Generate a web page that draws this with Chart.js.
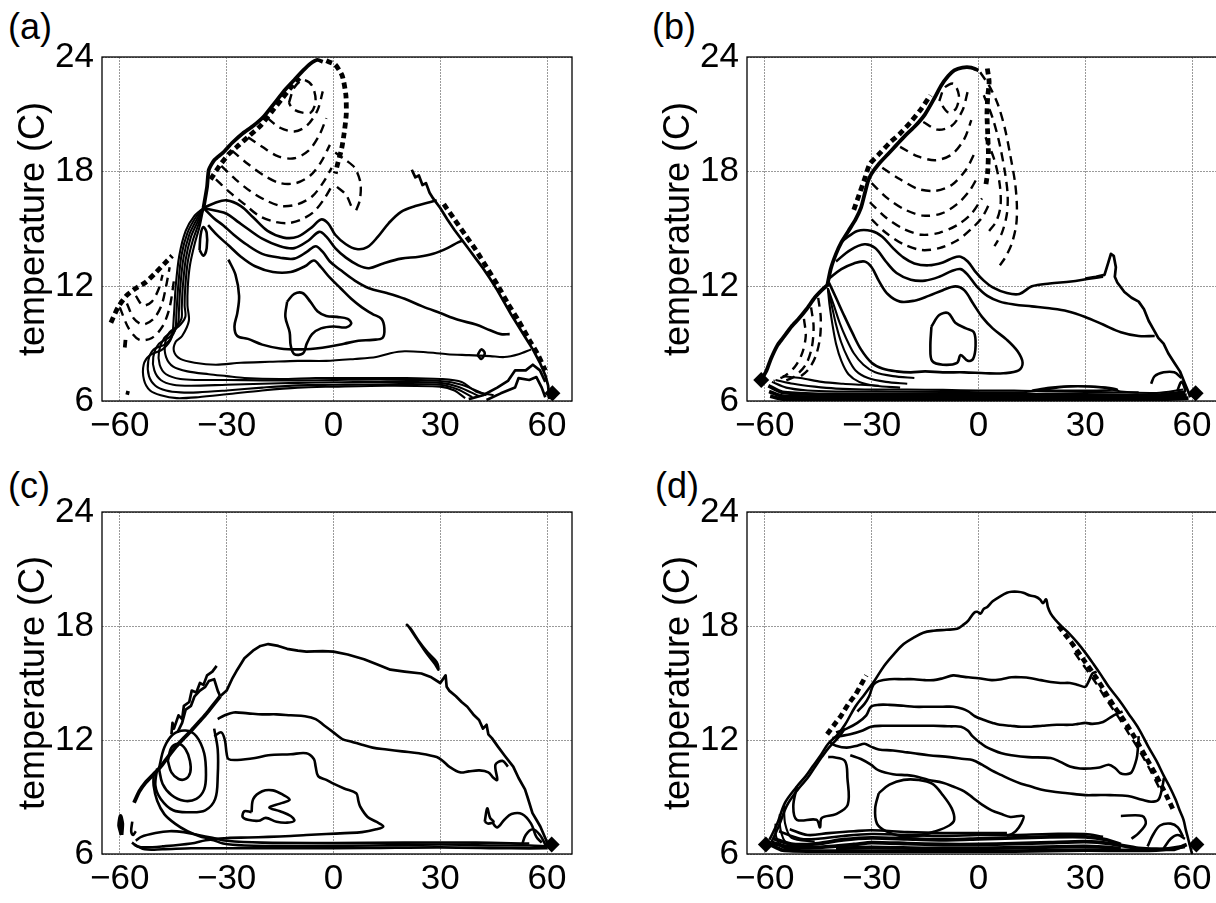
<!DOCTYPE html>
<html><head><meta charset="utf-8">
<script src="https://cdn.jsdelivr.net/npm/chart.js@4.4.1/dist/chart.umd.min.js"></script>
<style>
html,body{margin:0;padding:0;background:#fff;overflow:hidden;width:1216px;height:903px;}
canvas{position:absolute;}
.tag{position:absolute;font-family:'Liberation Sans',Arial,Helvetica,sans-serif;font-size:36px;line-height:36px;color:#000;}
</style></head><body>
<div class="tag" id="t0" style="left:8px;top:9px"></div>
<div class="tag" id="t1" style="left:652px;top:9px"></div>
<div class="tag" id="t2" style="left:8px;top:468px"></div>
<div class="tag" id="t3" style="left:655px;top:468px"></div>
<canvas id="c0" width="600" height="450" style="left:0;top:0;width:600px;height:450px"></canvas>
<canvas id="c1" width="600" height="450" style="left:645px;top:0;width:600px;height:450px"></canvas>
<canvas id="c2" width="600" height="448" style="left:0;top:455px;width:600px;height:448px"></canvas>
<canvas id="c3" width="600" height="448" style="left:645px;top:455px;width:600px;height:448px"></canvas>
<script>
// ---------- axes / text ----------
const xTicks = [-60, -30, 0, 30, 60];
const xLabels = ['\u221260', '\u221230', '0', '30', '60'];
const yTicks = [6, 12, 18, 24];
const yLabels = ['6', '12', '18', '24'];
const panelTags = ['(a)', '(b)', '(c)', '(d)'];
const yTitle = 'temperature (C)';

// ---------- panel (a) contours: [x,y,x,y,...] ----------
const a_edgeR = [22,18.1, 23,17.7, 24,17.8, 25,17.3, 26,17.4, 27,16.9, 28,16.6, 30,16.1, 32,15.5, 34,14.95, 36,14.45, 38,13.95, 40,13.45, 42,12.95, 44,12.4, 46,11.8, 48,11.15, 50,10.5, 52,9.9, 54,9.3, 56,8.7, 58,8.0, 59.5,7.35, 60.3,6.8, 60.6,6.1];
const a_edgeRd = [31,16.3, 34,15.5, 37,14.7, 40,13.9, 43,13.0, 46,12.1, 49,11.1, 52,10.2, 55,9.2, 57.5,8.4, 59.5,7.6];
const a_edgeTL = [-36.5,16.1, -35.5,17.2, -35,18.1, -33.5,18.6, -31,19.0, -28.5,19.5, -25.5,20.0, -22.5,20.4, -19.5,20.9, -16.5,21.6, -13.5,22.3, -11,22.8, -8.5,23.3, -6.5,23.65, -4.5,23.85, -3,23.75];
const a_edgeTL2 = [-34.5,17.6, -32,18.3, -29.5,18.9, -26.5,19.4, -23.5,19.9, -20.5,20.4, -17.5,21.1, -14.5,21.8, -12,22.4, -9.5,22.9];
const a_edgeTR = [-2,23.8, 0.5,23.6, 2.5,23.0, 3.5,22.0, 3.6,21.0, 3.0,20.0, 2.3,19.2, 1.3,18.5, 0.5,17.9];
const a_v1 = [-33,17.6, -29,16.9, -25,16.3, -21,15.7, -17,15.4, -13,15.3, -9,15.5, -5.5,15.9, -2.5,16.6, 0,17.4];
const a_v2 = [-31.5,18.3, -27.5,17.6, -23.5,17.0, -19,16.5, -14.5,16.2, -10,16.3, -6,16.7, -3,17.4, -0.5,18.2];
const a_v3 = [-28.5,19.1, -24,18.4, -19.5,17.8, -15,17.4, -10.5,17.4, -6.5,17.8, -3.5,18.5, -1,19.4];
const a_v4 = [-24,19.8, -20,19.3, -15.5,18.8, -11,18.7, -7,19.1, -4,19.9, -2,20.8];
const a_v5 = [-18.5,20.8, -15,20.3, -11,20.1, -7.5,20.4, -4.5,21.2, -3,22.2];
const a_v6 = [-12.5,21.6, -11,22.4, -8.5,22.8, -6,22.5, -5,21.7, -6.3,21.1, -9,21.1, -11.5,21.3, -12.5,21.6];
const a_r1 = [0.5,19.0, 3.5,18.6, 6,18.2, 7.6,17.4, 7.4,16.5, 6.2,15.9];
const a_r2 = [1,17.2, 3.5,16.8, 5,16.2];
const a_hL = [-62.5,10.1, -60.5,10.9, -58.2,11.5, -55.5,11.9, -52.8,12.2, -50,12.7, -47.4,13.2, -45.3,13.6];
const a_u1 = [-60,10.9, -57.5,9.8, -54.5,9.2, -51,9.3, -48,9.9, -46,10.9, -44.8,12.3];
const a_u2 = [-58,11.1, -56,10.3, -53.5,10.0, -50.5,10.3, -48.3,11.0, -47,12.0, -46,13.0];
const a_u3 = [-55.5,11.5, -53.5,11.0, -51,11.2, -49,11.9, -48,12.6];
const a_dot1 = [-58.6,8.8, -58.4,9.2];
const a_dot2 = [-58.3,6.45, -57.3,6.4];
const a_s1 = [-36.5,16.1, -39,15.7, -41.5,14.9, -43.3,13.6, -44.3,12.0, -44.8,10.5, -45.5,9.3, -48,8.7, -51.5,8.4, -53.3,7.9, -53.2,7.1, -51.5,6.55, -48.5,6.3, -44,6.15, -38,6.2, -30,6.35, -20,6.55, -10,6.7, 0,6.75, 15,6.8, 30,6.75, 34,6.55, 37,6.15];
const a_s2 = [-36.5,16.1, -38.7,15.6, -41,14.8, -42.7,13.6, -43.6,12.0, -44.1,10.6, -44.5,9.7, -47,9.0, -50.5,8.7, -52,8.1, -51.8,7.3, -50,6.8, -47,6.55, -43,6.45, -38,6.45, -30,6.55, -20,6.7, -10,6.82, 0,6.85, 15,6.88, 30,6.85, 35,6.6, 39,6.2];
const a_s3 = [-36.5,16.1, -38.4,15.5, -40.5,14.7, -42.1,13.5, -43,12.0, -43.4,10.7, -43.7,10.0, -46,9.35, -49,9.0, -50.6,8.3, -50.3,7.6, -48.5,7.1, -45,6.85, -40,6.8, -30,6.85, -20,6.9, -10,6.95, 0,6.98, 15,7.0, 30,6.95, 35,6.75, 41,6.25];
const a_s4 = [-36.5,16.1, -38.1,15.4, -40,14.6, -41.5,13.4, -42.3,12.0, -42.6,10.9, -42.7,10.3, -45,9.7, -47.5,9.3, -49,8.6, -48.8,7.9, -47,7.4, -43,7.15, -38,7.1, -30,7.1, -20,7.08, -10,7.08, 0,7.1, 15,7.12, 30,7.05, 36,6.85, 43,6.3];
const a_s5 = [-36.5,16.1, -37.8,15.3, -39.5,14.4, -40.9,13.3, -41.6,12.0, -41.8,11.0, -41.6,10.4, -43.5,9.9, -46,9.6, -47.3,9.0, -47,8.3, -45,7.8, -41,7.55, -35,7.4, -30,7.3, -25,7.2, -15,7.15, -5,7.2, 5,7.2, 20,7.2, 30,7.15, 36,7.0, 40,6.5, 45,6.3];
const a_s6 = [-36.5,16.1, -37.5,15.2, -39,14.2, -40.3,13.1, -40.9,12.0, -41,11.0, -40.6,10.2, -42.5,9.4, -44.3,9.1, -44.8,8.6, -43,8.2, -39,8.0, -33,7.9, -26,8.0, -18,8.05, -10,8.1, -2,8.1, 6,8.2, 12,8.3, 16,8.5, 20,8.6, 26,8.55, 32,8.45, 38,8.4, 44,8.35, 48,8.3, 52,8.45, 55.5,8.7];
const a_loop = [-37.6,13.9, -37.3,14.7, -36.5,15.1, -35.6,14.8, -35.6,14.0, -36.5,13.6, -37.6,13.9];
const a_c1 = [-36.5,16.1, -33.5,16.35, -30,16.5, -26,16.2, -22.5,15.6, -18.5,14.9, -14,14.55, -10,14.6, -6,15.1, -3.5,15.5, -1.5,15.3, 0.5,14.7, 3.5,14.2, 6.5,13.95, 9.5,14.05, 12.5,14.6, 15.5,15.3, 19,15.9, 23,16.2, 27,16.4, 29,16.5];
const a_c2 = [-36.5,16.1, -33,15.95, -30,15.8, -27,15.4, -24,15.0, -20,14.5, -15,14.1, -11,14.0, -7,14.4, -4,14.85, -2,14.6, 0.5,14.0, 3.5,13.5, 7,13.1, 10,12.95, 14,13.2, 19,13.45, 24,13.55, 28,13.7, 32,14.0, 35,14.3, 36.5,14.4];
const a_c3 = [-36.5,16.1, -33.5,15.55, -31,15.2, -28,14.7, -24.5,14.2, -20,13.7, -15,13.5, -11,13.45, -7.5,13.8, -5,14.1, -3,13.8, -1,13.3, 2,12.85, 6,12.3, 10,11.9, 15,11.65, 20,11.35, 25,10.95, 30,10.6, 35,10.25, 40,10.0, 44,9.7, 47,9.5, 49.5,9.5];
const a_c4 = [-35.2,15.2, -32.5,14.65, -29.5,14.15, -26,13.55, -22,13.05, -17,12.75, -12,12.75, -8,13.05, -5.5,13.35, -3.5,13.0, -1,12.45, 2,11.9, 5,11.35, 8,10.9, 11,10.55, 13.5,10.3, 14.3,9.8, 13.8,9.3, 11,9.2, 7,9.15, 3,9.0, -1,8.85, -5,8.75, -10,8.7, -15,8.75, -20,8.95, -24,9.25, -27,9.4, -27.8,9.9, -27,10.6, -26.5,11.5, -27.5,12.6, -29.5,13.4];
const a_blob = [-13,11.2, -11,11.6, -8.7,11.65, -6.5,11.2, -4.5,10.7, -2,10.45, 1,10.4, 4,10.3, 5,10.05, 3.5,9.85, 0,9.9, -3.5,9.8, -6,9.5, -7.5,9.0, -8.5,8.5, -11,8.45, -12,8.9, -12.3,9.6, -13.5,10.4, -13,11.2];
const a_br1 = [38,6.1, 42,6.3, 46,6.7, 49,7.05, 51,7.6, 54,7.6, 56,7.9, 58,7.6, 59.5,7.0];
const a_br2 = [43,6.05, 47,6.4, 51,6.7, 52,7.2, 55,7.1, 57,7.25, 58.5,6.7, 59.5,6.2];
const a_br3 = [40.5,8.4, 41.5,8.7, 42.5,8.5, 41.5,8.2, 40.5,8.4];
const a_diam = [61.5,6.4];

// ---------- panel (b) ----------
const b_edgeR = [30,12.4, 33,12.5, 35.4,12.6, 36.4,13.2, 37.2,13.7, 38,13.6, 38.6,13.0, 38.3,12.5, 39,12.2, 41,11.7, 43,11.4, 45,11.2, 46.5,10.8, 47.8,10.2, 49,9.8, 50.5,9.3, 52,9.0, 53.3,8.5, 55,8.0, 56.6,7.55, 57.8,7.0, 58.8,6.55, 59.5,6.2];
const b_edgeTL = [-42.5,12.0, -41.5,12.9, -40,13.7, -38.5,14.3, -36.5,14.9, -34.5,15.5, -33,16.1, -32,16.8, -31,17.5, -30,17.9, -28,18.4, -25.5,18.9, -23,19.4, -20.5,19.9, -17.7,20.4, -15,21.0, -12.5,21.8, -10.5,22.5, -8.5,23.0, -6.8,23.3, -4.5,23.45, -2,23.45, 0,23.3];
const b_edgeTL2 = [-35,16.0, -33.5,16.8, -32,17.6, -30.5,18.4, -28,18.9, -25,19.5, -22,20.0, -19,20.6, -16,21.3, -13.5,22.0];
const b_edgeTR = [2.5,23.4, 3.0,22.7, 2.6,21.9, 2.4,21.0, 2.6,20.0, 2.8,19.0, 2.6,18.0, 2.0,17.2];
const b_arc1 = [0.5,23.2, 3,22.5, 5.5,21.5, 7.5,20.2, 9,18.8, 10.3,17.4, 10.8,16.2, 10.6,15.2, 9.3,14.2, 7.5,13.5, 6,13.1];
const b_arc2 = [1.5,22.0, 4,20.8, 6,19.4, 7.5,17.9, 8.2,16.8, 8,15.8, 6.6,14.8, 4.5,14.1];
const b_arc3 = [2,19.8, 4.5,18.6, 6,17.3, 6.2,16.2, 5,15.4, 3,14.9];
const b_v1 = [-30,15.5, -26,14.8, -21,14.2, -16,13.9, -11,14.0, -6,14.4, -2,15.0, 1,15.6, 3,16.3];
const b_v2 = [-30.5,16.4, -26,15.6, -21,15.0, -16,14.7, -11,14.8, -6,15.2, -2,15.8, 1,16.6];
const b_v3 = [-30,17.4, -25.5,16.6, -20.5,16.0, -15.5,15.7, -10.5,15.8, -6,16.3, -2.5,17.0, 0,17.8];
const b_v4 = [-27,18.2, -22,17.6, -17,17.1, -12,17.0, -7.5,17.3, -3.5,18.1, -1,19.0];
const b_v5 = [-22,19.3, -17,18.8, -12,18.6, -7.5,18.9, -4,19.7, -2,20.7];
const b_v6 = [-15.5,20.6, -11.5,20.2, -7.5,20.4, -4.5,21.2, -3,22.2];
const b_loop = [-11,21.7, -9.5,22.4, -7,22.6, -5.5,22.0, -6.3,21.3, -8.5,21.1, -11,21.7];
const b_edgeBL = [-61,7.1, -59.5,7.6, -58.3,8.2, -56.5,8.9, -54.9,9.3, -52.5,9.9, -50.5,10.3, -48.3,10.8, -46,11.4, -44,11.8, -42.5,12.05];
const b_dl1 = [-49,10.3, -48.5,9.4, -49.5,8.5, -51.5,7.8, -54.5,7.3, -57.5,7.05];
const b_dl2 = [-47,10.9, -46.3,9.9, -46.8,8.8, -48.5,7.9, -51.5,7.3, -55,7.0];
const b_dl3 = [-45,11.4, -44.3,10.4, -44.5,9.3, -45.8,8.3, -48,7.6, -51,7.15];
const b_b1 = [-58.5,6.25, -55,6.1, -45,6.08, -30,6.08, -10,6.08, 10,6.08, 30,6.08, 50,6.08, 59,6.15];
const b_b2 = [-58.8,6.5, -55,6.25, -45,6.2, -30,6.2, -10,6.2, 10,6.2, 30,6.2, 50,6.2, 58.5,6.3];
const b_b3 = [-59,6.8, -55,6.45, -45,6.35, -30,6.35, -10,6.35, 10,6.33, 30,6.32, 50,6.3, 58,6.45];
const b_b4 = [-58,7.0, -54,6.7, -48,6.55, -40,6.5, -30,6.5, -10,6.48, 10,6.45, 15,6.5, 25,6.75, 35,6.7, 40,6.5, 50,6.42, 57.5,6.6];
const b_b5 = [-57,7.1, -52,6.9, -46,6.75, -40,6.65, -32,6.6, -20,6.6, -10,6.58, 0,6.55, 10,6.55, 20,6.5, 30,6.48, 38,6.45, 45,6.45];
const b_b6 = [-55,7.3, -50,7.2, -44,7.0, -38,6.9, -33,6.85, -28,6.8];
const b_lens = [15,6.55, 20,6.7, 26,6.78, 33,6.75, 39,6.6, 33,6.55, 25,6.55, 18,6.55, 15,6.55];
const b_s1 = [-42.3,11.9, -41.8,11.0, -41,10.0, -40,9.0, -38.5,8.1, -36.5,7.4, -33.5,7.0, -29,6.8, -22,6.7];
const b_s2 = [-42.3,11.9, -41.2,11.0, -40,10.0, -38.6,9.1, -36.8,8.3, -34.5,7.6, -31,7.2, -26,7.0, -20,6.9];
const b_s3 = [-42.3,11.9, -40.6,11.0, -39,10.1, -37.2,9.3, -35,8.5, -32.3,7.9, -29,7.5, -24,7.3, -18,7.2];
const b_h1 = [-38,14.4, -34,14.9, -30,14.9, -27,14.6, -24,14.0, -21,13.5, -18,13.2, -14,13.1, -10,13.25, -7,13.5, -5,13.55, -3,13.3, -1,12.8, 1.5,12.3, 4,11.95, 8,11.65, 11.5,11.6, 15,12.0, 20,12.15, 26,12.25, 31,12.4, 35,12.5];
const b_h2 = [-40,13.3, -36,13.9, -32,14.2, -29,14.0, -26,13.3, -23,12.7, -19,12.35, -15,12.3, -11,12.5, -7.5,12.8, -5,12.9, -3,12.6, -0.5,12.0, 2.5,11.5, 6,11.2, 10,11.05, 15,10.95, 20,10.85, 25,10.7, 30,10.4, 35,10.0, 40,9.6, 45,9.4, 49.5,9.4];
const b_h3 = [-42,12.4, -38.5,12.9, -35,13.2, -32,13.3, -30,13.0, -28,12.3, -25.5,11.6, -22,11.2, -18,11.25, -14,11.5, -10,11.8, -6.5,12.0, -4,11.8, -1.5,11.1, 1,10.4, 4,9.8, 8,9.2, 11,8.6, 12.4,8.0, 11.3,7.6, 7,7.45, 2,7.45, -4,7.5, -10,7.5, -15,7.55, -19,7.5, -23,7.55, -27,7.7, -30,8.0, -33,8.7, -35.5,9.6, -37.8,10.5, -40,11.4, -42,12.2];
const b_blob = [-13.2,9.9, -11,10.5, -8.5,10.6, -6.5,10.1, -3.5,9.8, -1.3,9.6, -0.8,8.9, -1.5,8.2, -3,8.1, -5,8.4, -6,8.0, -10,7.9, -13,8.1, -13.5,8.8, -13.2,9.9];
const b_rb = [48.5,6.9, 49.5,7.3, 52,7.5, 55,7.5, 57,7.2];
const b_tri = [55.8,6.5, 57,7.0, 58,6.5, 55.8,6.5];
const b_diam = [61,6.4, -61,7.1];

// ---------- panel (c) ----------
const c_edgeL = [-56,8.7, -54.5,9.3, -52.8,9.75, -50.5,10.2, -48.5,10.6, -46.5,11.1, -44.2,11.65, -42,12.1, -39.9,12.5, -37.5,13.0, -35.6,13.4, -33.5,13.9, -31.8,14.3];
const c_jag1 = [-45.5,12.3, -45.2,12.9, -44.8,12.6, -43.5,13.3, -42.5,13.1, -42,13.8, -40.5,14.0, -39.8,14.6, -38.5,14.5, -37.5,15.0, -36.5,14.9, -35.5,15.4, -34,15.6, -32.8,15.9];
const c_jag2 = [-43.8,12.4, -42.5,12.9, -41.5,13.6, -40,13.8, -39,14.3, -37.5,14.6, -36,14.8, -35,15.1, -33.5,15.2, -32.5,14.6, -31.8,14.3];
const c_top = [-31.8,14.3, -30,14.6, -28.5,15.2, -27,15.7, -25,16.3, -22.6,16.7, -20.5,16.95, -18.3,17.05, -15.5,16.95, -13,16.8, -10,16.7, -7.6,16.65, -3,16.68, 0,16.65, 4,16.5, 8.6,16.25, 12,16.0, 16,15.7, 20,15.6, 24.7,15.5, 27.5,15.3, 30,15.0, 31.5,15.4, 31.8,14.8, 32.5,14.6, 34.4,14.3, 36,14.0, 37.6,13.75, 39.5,13.3, 40.9,13.05, 42,12.6, 43,12.8, 43.5,12.3, 44.5,12.1, 46.2,11.65, 48,11.2, 50.5,10.6, 52,10.0, 53.8,9.4, 54.5,9.0, 55.9,8.15, 57,7.8, 58.1,7.45, 59.7,6.75, 60.5,6.3];
const c_thin = [20.4,18.1, 21.5,17.9, 24,17.2, 26.5,16.6, 29,16.1, 29.5,15.7, 28.5,16.0, 26,16.6, 23.5,17.3, 21,18.0, 20.4,18.1];
const c_mid = [-32.5,13.1, -30.5,13.3, -28,13.45, -24,13.4, -20,13.35, -16,13.35, -12,13.3, -8,13.25, -5,13.1, -2.5,12.75, 0,12.4, 2.5,12.05, 5.3,11.9, 8,11.75, 11,11.6, 15,11.5, 19.3,11.4, 24,11.3, 29,11.1, 31,10.85, 32.5,10.6, 35.5,10.3, 38,10.35, 41,10.4, 43.5,10.3, 45,10.0, 46,9.9, 45.5,10.7, 47.5,10.9, 49,10.6];
const c_low = [-33.5,12.2, -31.5,12.4, -30.5,12.0, -30,11.3, -29.5,11.0, -27,10.95, -22,11.05, -18.3,11.2, -12,11.25, -7.6,11.3, -5.5,11.0, -5,10.6, -4.3,10.1, -2,9.9, 0,9.7, 3,9.45, 6.4,9.2, 7,8.8, 7.5,8.5, 9.6,7.95, 12,7.7, 14,7.45, 12,7.3, 8,7.15, 3.2,7.1, -2,7.05, -7.6,7.0, -12,6.95, -18.3,6.9, -24,6.87, -29.1,6.85, -33,6.8, -37,6.9, -41,7.2, -44.5,7.6, -47.5,8.1, -49.5,8.8, -50.5,9.6, -50.5,10.2];
const c_heart = [-23,8.2, -22.5,8.9, -20,9.3, -17,9.35, -14,9.1, -12.3,8.85, -15,8.65, -18,8.45, -15,8.25, -12,8.0, -11,7.75, -13,7.65, -16,7.7, -19,7.9, -21,7.75, -24,7.8, -25.5,7.95, -25,8.25, -23,8.2];
const c_L1 = [-46.5,10.9, -45.5,11.6, -43.5,11.8, -41.5,11.5, -40.3,10.9, -40.2,10.3, -41.5,9.95, -43.5,9.95, -45.5,10.3, -46.5,10.9];
const c_L2 = [-49,10.5, -47.5,11.6, -45,12.3, -41.5,12.5, -38.5,12.2, -36.3,11.3, -35.8,10.2, -36.3,9.4, -38.5,8.9, -42,8.8, -45.5,9.1, -48,9.7, -49,10.5];
const c_L3 = [-49.5,10.5, -50,9.6, -48.5,8.9, -45,8.3, -40.5,8.2, -36,8.3, -33.2,8.9, -32.5,10.1, -32.5,11.5, -33.5,12.6];
const c_b1 = [-56.6,6.6, -55,6.4, -52.8,6.35, -48,6.4, -40,6.55, -34.5,6.75, -31,6.55, -25,6.45, -10,6.42, 10,6.45, 30,6.5, 45,6.45, 55,6.45, 60,6.4];
const c_b2 = [-56,6.5, -53,6.25, -48,6.25, -40,6.3, -30,6.3, -10,6.3, 10,6.32, 30,6.35, 50,6.3, 60,6.3];
const c_b3 = [-55.5,6.7, -54,6.9, -50,7.1, -46,7.2, -42,7.15, -38,7.0, -34,6.85, -30,6.7, -20,6.6, 0,6.58, 20,6.6, 40,6.6, 55,6.55];
const c_bl1 = [-59.5,7.0, -60.2,7.5, -59.8,8.0, -59.3,7.6, -59.5,7.0];
const c_bl2 = [-56.5,7.7, -56.8,7.2, -56.3,7.0, -55.5,7.2];
const c_r1 = [42.5,7.7, 43.2,8.4, 44,7.9, 45,7.7, 43.5,7.6, 42.5,7.7];
const c_r2 = [44.5,7.7, 46,7.4, 48,7.8, 50,8.1, 53,8.1, 55.5,7.6, 57,6.9, 58.5,6.6];
const c_r3 = [53,6.5, 54,7.0, 56,7.3, 58,7.0, 59.5,6.5];
const c_diam = [61.3,6.5];

// ---------- panel (d) ----------
const d_top = [-58.7,6.75, -56.5,7.6, -54.3,8.7, -51,9.55, -48.5,10.1, -46.6,10.6, -44.3,11.2, -42.2,11.8, -39.5,12.3, -37.5,12.8, -34.6,13.75, -32,14.4, -29.1,15.15, -26.5,15.9, -23.6,16.55, -21,17.05, -18.1,17.4, -15.5,17.65, -12.6,17.75, -9,17.8, -6,17.85, -4,18.1, -2.8,18.3, -1.2,18.7, -0.3,18.75, 0.6,18.65, 1.5,18.9, 2.5,19.0, 4,19.3, 6,19.55, 8,19.75, 9.3,19.8, 11,19.8, 12.6,19.75, 14.5,19.6, 15.9,19.55, 17.3,19.4, 18.1,19.2, 19,19.4, 19.5,19.0, 20.3,18.65, 21.5,18.35, 23.5,17.95, 25.5,17.6, 27.9,17.1, 30,16.6, 32.3,16.0, 34.5,15.4, 36.6,14.8, 39.5,14.1, 42.1,13.4, 45,12.6, 47.7,11.65, 50,10.9, 52.1,10.1, 53.8,9.5, 55.4,8.85, 56.5,8.3, 57.6,7.8, 58.2,7.3, 58.7,6.95, 59.3,6.5, 60,6.0];
const d_top2 = [-58.2,6.6, -56,7.5, -53.8,8.55, -50.5,9.45, -48,10.0, -46.2,10.5, -44,11.1, -42,11.6, -39.5,12.1, -37.5,12.6];
const d_dashR1 = [22.5,18.0, 25,17.4, 27,16.9, 30,16.1, 33,15.3, 36,14.4, 38,13.8, 41,13.0, 44,12.1, 47,11.1, 50,10.1, 53,9.0, 55,8.2];
const d_dashR2 = [27,16.6, 30,15.8, 33,15.0, 36,14.1, 39,13.3, 42,12.4, 45,11.5, 48,10.5, 51,9.4];
const d_dashL = [-42.5,12.3, -40.5,12.8, -38.5,13.3, -36.5,13.9, -34.5,14.4, -33,14.9, -31.5,15.4];
const d_c2 = [-34,13.5, -32,13.9, -30.7,14.3, -29.5,14.9, -28,15.1, -25,15.2, -21,15.2, -18.1,15.2, -15,15.15, -12.6,15.15, -10,15.25, -7.1,15.4, -5,15.35, -2.8,15.3, 0,15.25, 3.7,15.15, 6.5,15.2, 9.3,15.3, 12,15.3, 14.8,15.25, 17.5,15.15, 20.3,15.05, 23,15.0, 25.7,15.0, 28,14.9, 30,14.8, 31,15.1, 32,15.5, 33.2,15.6];
const d_c3 = [-40,12.4, -37,12.6, -34,12.9, -31.5,13.3, -30.2,13.75, -28,13.85, -25,13.85, -21,13.8, -18.1,13.75, -14,13.75, -10,13.75, -7.1,13.75, -4.5,13.65, -2.8,13.5, -1,13.25, 1.6,13.05, 4,12.9, 6,12.8, 9,12.75, 12,12.7, 14.8,12.7, 18,12.75, 22,12.8, 25.7,12.8, 28,12.85, 30,12.9, 32,12.85, 35,12.95, 38,13.3, 40.5,13.5];
const d_c4 = [-41,12.1, -39,12.2, -36,12.3, -32.5,12.5, -30.2,12.7, -27,12.75, -23.6,12.75, -18,12.75, -12.6,12.75, -8,12.72, -4.9,12.7, -3,12.5, -1.7,12.2, 0.5,11.85, 2,11.65, 3.7,11.5, 6.5,11.3, 9.3,11.2, 14,11.1, 20.3,11.05, 23,10.85, 25.7,10.6, 28.5,10.5, 31.2,10.5, 34,10.55, 36.6,10.7, 38.5,10.5, 39.9,10.25, 41.5,10.2, 43,10.3, 44.4,11.0, 44.8,11.6, 45,12.2];
const d_c5 = [-42,11.9, -40,11.7, -37,11.6, -34,11.7, -32,11.8, -30.2,11.65, -28,11.5, -24,11.45, -20,11.35, -18.1,11.3, -14,11.2, -8,11.1, -4,11.0, -1.7,10.95, 1,10.7, 3.7,10.4, 6.5,10.15, 9.3,9.9, 12,9.7, 14.8,9.55, 17.5,9.4, 20.3,9.3, 25,9.2, 30,9.1, 33,9.1, 37,9.1, 42,9.05, 46,8.85, 48.5,8.75, 50.5,8.85, 51.5,9.4, 52.1,10.0];
const d_c6 = [-36,11.2, -33,11.0, -30.2,10.7, -28,10.4, -24,10.2, -20,10.15, -18.1,10.1, -14,9.9, -10,9.75, -7.1,9.55, -4,9.3, -1.5,8.95, 1,8.6, 3.7,8.3, 6.5,8.1, 9,7.95, 12.6,8.0, 12,7.6, 10.5,7.2, 9.3,7.05, 8,6.95];
const d_loopB = [-28,9.2, -25,9.65, -21,9.9, -17,9.9, -13,9.7, -10,9.1, -7.5,8.4, -6.8,7.8, -8.2,7.5, -12,7.2, -17,6.95, -22,6.95, -26,7.2, -28.5,7.6, -29,8.4, -28,9.2];
const d_loopC = [-51,9.55, -52,8.5, -51,7.8, -45.5,7.8, -44.5,7.4, -44,7.9, -40,8.1, -36.7,8.6, -36.8,10.0, -37.5,10.9, -41,11.1, -42.2,11.1];
const d_b1 = [-58.5,6.5, -55,6.2, -45,6.15, -30,6.15, -10,6.15, 10,6.15, 30,6.2, 50,6.2, 58,6.4];
const d_b2 = [-58,6.6, -54,6.4, -45,6.35, -35,6.5, -30,6.6, -20,6.55, -10,6.5, 0,6.5, 10,6.55, 20,6.6, 30,6.65, 37,6.55, 45,6.3, 55,6.25, 58.5,6.5];
const d_b3 = [-57.5,6.8, -52,6.5, -45,6.55, -38,6.75, -30,6.85, -20,6.8, -10,6.75, 0,6.8, 10,6.85, 20,6.9, 30,6.9, 36,6.75, 40,6.5];
const d_b4 = [-56,7.2, -50,6.8, -45,6.8, -38,6.95, -30,7.05, -20,7.0, -10,6.95, 0,7.0, 10,7.0, 20,7.05, 30,7.05, 35,6.9];
const d_b5 = [-53,7.3, -48,7.0, -42,7.1, -35,7.2, -30,7.25, -20,7.15, -10,7.1, 0,7.1, 8,7.1];
const d_b6 = [-40,6.3, -30,6.35, -15,6.3, 0,6.3, 15,6.35, 30,6.4, 40,6.3];
const d_vl1 = [-50,6.25, -55,6.35, -56.8,6.9, -57,7.6];
const d_vl2 = [-48,6.45, -54,6.6, -55.6,7.3, -55.8,8.1];
const d_vl3 = [-46,6.65, -52.5,6.85, -54.3,7.6, -54.6,8.6];
const d_r1 = [40,8.0, 46,8.0, 47,7.6, 45,7.1, 43,6.8];
const d_r2 = [47.5,6.4, 49,7.0, 51,7.5, 54,7.6, 56,7.4, 57.5,6.9];
const d_r3 = [52,6.3, 54,6.8, 56,7.0, 58,6.8];
const d_diam = [-59.7,6.5, 61.2,6.5];

// ---------- line styles ----------
const STY = {
  S:  {w: 2.6, dash: [], t: 0.35},
  T:  {w: 2.1, dash: [], t: 0.3},
  J:  {w: 2.7, dash: [], t: 0},
  H:  {w: 3.8, dash: [], t: 0.2},
  D:  {w: 2.4, dash: [9, 6], t: 0.3},
  HD: {w: 4.8, dash: [6, 4], t: 0.2}
};

const panels = [
  {lines: [[a_edgeR,'J'],[a_edgeRd,'HD'],[a_edgeTL,'H'],[a_edgeTL2,'HD'],[a_edgeTR,'HD'],
           [a_v1,'D'],[a_v2,'D'],[a_v3,'D'],[a_v4,'D'],[a_v5,'D'],[a_v6,'D'],[a_r1,'D'],[a_r2,'D'],
           [a_hL,'HD'],[a_u1,'D'],[a_u2,'D'],[a_u3,'D'],[a_dot1,'H'],[a_dot2,'H'],
           [a_s1,'T'],[a_s2,'T'],[a_s3,'T'],[a_s4,'T'],[a_s5,'T'],[a_s6,'T'],[a_loop,'S'],
           [a_c1,'S'],[a_c2,'S'],[a_c3,'S'],[a_c4,'S'],[a_blob,'S'],[a_br1,'J'],[a_br2,'J'],[a_br3,'S']],
   diam: a_diam},
  {lines: [[b_edgeR,'J'],[b_edgeTL,'H'],[b_edgeTL2,'HD'],[b_edgeTR,'HD'],[b_arc1,'D'],[b_arc2,'D'],[b_arc3,'D'],
           [b_v1,'D'],[b_v2,'D'],[b_v3,'D'],[b_v4,'D'],[b_v5,'D'],[b_v6,'D'],[b_loop,'D'],
           [b_edgeBL,'H'],[b_dl1,'D'],[b_dl2,'D'],[b_dl3,'D'],
           [b_b1,'H'],[b_b2,'H'],[b_b3,'H'],[b_b4,'T'],[b_b5,'T'],[b_b6,'T'],[b_lens,'T'],
           [b_s1,'T'],[b_s2,'T'],[b_s3,'T'],[b_h1,'S'],[b_h2,'S'],[b_h3,'S'],[b_blob,'S'],[b_rb,'S'],[b_tri,'S']],
   diam: b_diam},
  {lines: [[c_edgeL,'H'],[c_jag1,'J'],[c_jag2,'J'],[c_top,'J'],[c_thin,'S'],[c_mid,'S'],[c_low,'S'],[c_heart,'S'],
           [c_L1,'S'],[c_L2,'S'],[c_L3,'S'],[c_b1,'S'],[c_b2,'S'],[c_b3,'S'],[c_bl1,'H'],[c_bl2,'S'],
           [c_r1,'S'],[c_r2,'S'],[c_r3,'S']],
   diam: c_diam},
  {lines: [[d_top,'S'],[d_top2,'S'],[d_dashR1,'HD'],[d_dashR2,'D'],[d_dashL,'HD'],[d_c2,'S'],[d_c3,'S'],[d_c4,'S'],[d_c5,'S'],[d_c6,'S'],
           [d_loopB,'S'],[d_loopC,'S'],[d_b1,'H'],[d_b2,'H'],[d_b3,'H'],[d_b4,'S'],[d_b5,'S'],[d_b6,'H'],
           [d_vl1,'T'],[d_vl2,'T'],[d_vl3,'T'],[d_r1,'S'],[d_r2,'S'],[d_r3,'S']],
   diam: d_diam}
];

// ---------- build ----------
const FONT = "'Liberation Sans', Arial, Helvetica, sans-serif";
const toPts = arr => { const p = []; for (let i = 0; i < arr.length; i += 2) p.push({x: arr[i], y: arr[i+1]}); return p; };

const framePlugin = {
  id: 'frame',
  afterDraw(chart) {
    const {ctx, chartArea: a} = chart;
    ctx.save();
    ctx.strokeStyle = '#000';
    ctx.lineWidth = 1.3;
    ctx.strokeRect(a.left, a.top, a.right - a.left, a.bottom - a.top);
    ctx.restore();
  }
};

panels.forEach((pn, k) => {
  document.getElementById('t' + k).textContent = panelTags[k];
  const datasets = pn.lines.map(([arr, s]) => ({
    data: toPts(arr), showLine: true, borderColor: '#000', borderWidth: STY[s].w,
    borderDash: STY[s].dash, tension: STY[s].t, pointRadius: 0, fill: false,
    borderCapStyle: 'butt', borderJoinStyle: 'round'
  }));
  datasets.push({data: toPts(pn.diam), showLine: false, pointStyle: 'rectRot', pointRadius: 8,
    backgroundColor: '#000', borderColor: '#000', borderWidth: 0});
  new Chart(document.getElementById('c' + k), {
    type: 'scatter',
    data: {datasets},
    options: {
      responsive: false, animation: false, events: [],
      plugins: {legend: {display: false}, tooltip: {enabled: false}},
      layout: {padding: {top: 57, right: 28, bottom: 0, left: 0}},
      scales: {
        x: {
          type: 'linear', min: -65, max: 67,
          afterBuildTicks: s => { s.ticks = xTicks.map(v => ({value: v})); },
          afterFit: s => { s.height = 49; },
          grid: {color: '#9a9a9a', lineWidth: 1, drawTicks: false},
          border: {display: false, dash: [2, 1]},
          ticks: {color: '#000', font: {family: FONT, size: 35}, padding: 4, maxRotation: 0, autoSkip: false,
                  callback: v => xLabels[xTicks.indexOf(v)]}
        },
        y: {
          type: 'linear', min: 6, max: 24,
          afterBuildTicks: s => { s.ticks = yTicks.map(v => ({value: v})); },
          afterFit: s => { s.width = 102; },
          grid: {color: '#9a9a9a', lineWidth: 1, drawTicks: false},
          border: {display: false, dash: [2, 1]},
          ticks: {color: '#000', font: {family: FONT, size: 35}, padding: 8, autoSkip: false,
                  callback: v => yLabels[yTicks.indexOf(v)]},
          title: {display: true, text: yTitle, color: '#000', font: {family: FONT, size: 36}, padding: {top: 12, bottom: 0}}
        }
      }
    },
    plugins: [framePlugin]
  });
});
</script>
</body></html>
